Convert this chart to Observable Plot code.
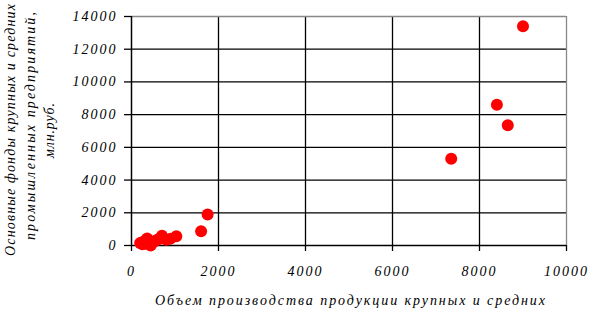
<!DOCTYPE html>
<html><head><meta charset="utf-8">
<script src="https://cdn.jsdelivr.net/npm/d3@7"></script>
<script src="https://cdn.jsdelivr.net/npm/@observablehq/plot@0.6"></script>
<style>body{margin:0;background:#fff}
svg text{font-family:"Liberation Serif",serif !important;font-style:italic}</style>
</head><body><div id="chart"></div>
<script>
const xValues = [9000, 8400, 8650, 7350, 1750, 1600, 700, 1030, 360, 440, 200, 280, 320, 500, 560, 800, 900, 250, 620];
const yValues = [13400, 8600, 7350, 5300, 1900, 870, 600, 560, 430, 0, 150, 250, 100, 200, 300, 350, 420, 80, 380];
const xTicks = [0, 2000, 4000, 6000, 8000, 10000];
const yTicks = [0, 2000, 4000, 6000, 8000, 10000, 12000, 14000];
const xLabel = "Объем производства продукции крупных и средних";
const yLabelLines = ["Основные фонды крупных и средних", "промышленных предприятий,", "млн.руб."];

const data = xValues.map((x, i) => ({x, y: yValues[i]}));

const plot = Plot.plot({
  width: 590, height: 311,
  marginLeft: 131, marginRight: 24, marginTop: 16, marginBottom: 66,
  style: {fontFamily: "Liberation Serif", fontStyle: "italic", fontSize: "14px", background: "#fff", color: "#000"},
  x: {domain: [0, 10000], ticks: xTicks, tickFormat: d => String(d)},
  y: {domain: [0, 14000], ticks: yTicks, tickFormat: d => String(d)},
  marks: [
    Plot.ruleX(xTicks.slice(1, -1), {stroke: "#000", strokeWidth: 1.3}),
    Plot.ruleY(yTicks.slice(1, -1), {stroke: "#000", strokeWidth: 1.3}),
    Plot.ruleX([10000], {stroke: "#888", strokeWidth: 1.3}),
    Plot.ruleY([14000], {stroke: "#888", strokeWidth: 1.3}),
    Plot.ruleX([0], {stroke: "#000", strokeWidth: 1.5}),
    Plot.ruleY([0], {stroke: "#000", strokeWidth: 1.5}),
    Plot.axisX({ticks: xTicks, tickSize: 6, tickPadding: 15, tickFormat: d => String(d), label: null, stroke: "#000", strokeWidth: 1.3, fontSize: 14}),
    Plot.axisY({ticks: yTicks, tickSize: 7, tickPadding: 7, tickFormat: d => String(d), label: null, stroke: "#000", strokeWidth: 1.3, fontSize: 14}),
    Plot.dot(data, {x: "x", y: "y", r: 6, fill: "#ff0000", stroke: "none"})
  ]
});

const svg = d3.select(plot);
svg.selectAll("g[aria-label='x-axis tick label'] text, g[aria-label='y-axis tick label'] text")
  .style("letter-spacing", "2px").style("font-weight", "normal");
svg.append("text")
  .attr("x", 155).attr("y", 305)
  .attr("text-anchor", "start")
  .attr("textLength", 390).attr("lengthAdjust", "spacing")
  .style("font-size", "14px")
  .text(xLabel);
const yLines = [{x: 15, y0: 256, len: 252}, {x: 35, y0: 240, len: 228}, {x: 54, y0: 158, len: 55}];
yLabelLines.forEach((t, i) => {
  svg.append("text")
    .attr("transform", `translate(${yLines[i].x},${yLines[i].y0}) rotate(-90)`)
    .attr("text-anchor", "start")
    .attr("textLength", yLines[i].len).attr("lengthAdjust", "spacing")
    .style("font-size", "14px")
    .text(t);
});

document.getElementById("chart").appendChild(plot);
</script>
</body></html>
